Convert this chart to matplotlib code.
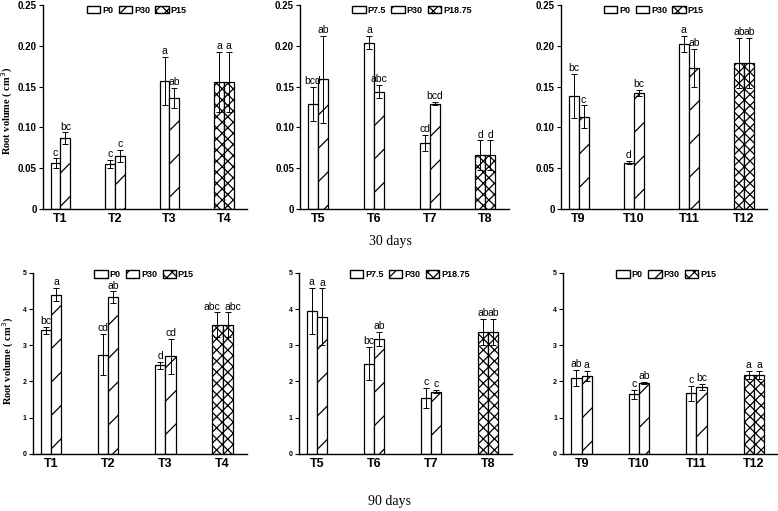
import numpy as np
import matplotlib
matplotlib.use("Agg")
import matplotlib.pyplot as plt
from matplotlib.patches import Patch

plt.rcParams['font.family'] = ['Liberation Sans', 'DejaVu Sans']
plt.rcParams['hatch.linewidth'] = 0.9

# ---- data (root volume, cm3) ----
grp_a = ['T1', 'T2', 'T3', 'T4']
grp_b = ['T5', 'T6', 'T7', 'T8']
grp_c = ['T9', 'T10', 'T11', 'T12']

low_30_a = [0.056, 0.055, 0.157, 0.156]
low_err_30_a = [0.006, 0.005, 0.029, 0.037]
p30_30_a = [0.087, 0.065, 0.136, 0.156]
p30_err_30_a = [0.007, 0.007, 0.012, 0.037]
low_let_30_a = ['c', 'c', 'a', 'a']
p30_let_30_a = ['bc', 'c', 'ab', 'a']

low_30_b = [0.129, 0.204, 0.081, 0.066]
low_err_30_b = [0.021, 0.008, 0.010, 0.018]
p30_30_b = [0.159, 0.144, 0.129, 0.066]
p30_err_30_b = [0.053, 0.008, 0.002, 0.018]
low_let_30_b = ['bcd', 'a', 'cd', 'd']
p30_let_30_b = ['ab', 'abc', 'bcd', 'd']

low_30_c = [0.139, 0.057, 0.202, 0.179]
low_err_30_c = [0.027, 0.002, 0.010, 0.031]
p30_30_c = [0.113, 0.142, 0.173, 0.179]
p30_err_30_c = [0.014, 0.004, 0.023, 0.031]
low_let_30_c = ['bc', 'd', 'a', 'ab']
p30_let_30_c = ['c', 'bc', 'ab', 'ab']

low_90_a = [3.41, 2.74, 2.44, 3.57]
low_err_90_a = [0.09, 0.57, 0.10, 0.34]
p30_90_a = [4.40, 4.33, 2.69, 3.57]
p30_err_90_a = [0.19, 0.16, 0.48, 0.34]
low_let_90_a = ['bc', 'cd', 'd', 'abc']
p30_let_90_a = ['a', 'ab', 'cd', 'abc']

low_90_b = [3.95, 2.49, 1.55, 3.37]
low_err_90_b = [0.64, 0.46, 0.28, 0.35]
p30_90_b = [3.79, 3.18, 1.72, 3.37]
p30_err_90_b = [0.78, 0.19, 0.05, 0.35]
low_let_90_b = ['a', 'bc', 'c', 'ab']
p30_let_90_b = ['a', 'ab', 'c', 'ab']

low_90_c = [2.10, 1.64, 1.67, 2.19]
low_err_90_c = [0.22, 0.13, 0.20, 0.11]
p30_90_c = [2.16, 1.96, 1.84, 2.19]
p30_err_90_c = [0.14, 0.03, 0.09, 0.11]
low_let_90_c = ['ab', 'c', 'c', 'a']
p30_let_90_c = ['a', 'ab', 'bc', 'a']

legend_ac = ['P0', 'P30', 'P15']
legend_b = ['P7.5', 'P30', 'P18.75']

fig = plt.figure(figsize=(7.78, 5.11), dpi=100)

W = 0.18


def panel(rect, groups, v1, e1, v2, e2, l1, l2, names, top_row, leg_x):
    ax = fig.add_axes(rect)
    x = np.arange(len(groups))
    hatch1 = ['', '', '', 'xxx']
    hatch2 = ['/', '/', '/', 'xxx']
    for i in range(len(groups)):
        ax.bar(x[i] - W / 2, v1[i], W, color='white', edgecolor='black',
               hatch=hatch1[i], linewidth=0.9, zorder=2)
        ax.bar(x[i] + W / 2, v2[i], W, color='white', edgecolor='black',
               hatch=hatch2[i], linewidth=0.9, zorder=2)
    ax.errorbar(x - W / 2, v1, yerr=e1, fmt='none', ecolor='black',
                elinewidth=0.7, capsize=2.2, capthick=0.7, zorder=3)
    ax.errorbar(x + W / 2, v2, yerr=e2, fmt='none', ecolor='black',
                elinewidth=0.7, capsize=2.2, capthick=0.7, zorder=3)
    ymax = 0.25 if top_row else 5
    pad = ymax * 0.004
    for i in range(len(groups)):
        y1 = v1[i] + e1[i] + pad
        y2 = v2[i] + e2[i] + pad
        # spread long twin labels that sit at the same height
        wide = abs(y1 - y2) < ymax * 0.03 and len(l1[i]) + len(l2[i]) > 4
        ax.text(x[i] - W / 2 + (0.05 if wide else 0), y1, l1[i],
                ha='right' if wide else 'center', va='bottom', fontsize=7.5)
        ax.text(x[i] + W / 2 - (0.05 if wide else 0), y2, l2[i],
                ha='left' if wide else 'center', va='bottom', fontsize=7.5)
    ax.set_xlim(-0.32, 3.42)
    ax.set_ylim(0, ymax)
    ax.set_xticks(x)
    ax.set_xticklabels(groups, fontsize=9, fontweight='bold')
    ax.tick_params(axis='x', length=0, pad=3)
    if top_row:
        ax.set_yticks([0, 0.05, 0.10, 0.15, 0.20, 0.25])
        ax.set_yticklabels(['0', '0.05', '0.10', '0.15', '0.20', '0.25'],
                           fontsize=7, fontweight='bold')
    else:
        ax.set_yticks([0, 1, 2, 3, 4, 5])
        ax.set_yticklabels(['0', '1', '2', '3', '4', '5'], fontsize=5,
                           fontweight='bold')
    ax.tick_params(axis='y', length=3, width=0.8, pad=1.5)
    for s in ['top', 'right']:
        ax.spines[s].set_visible(False)
    for s in ['left', 'bottom']:
        ax.spines[s].set_linewidth(1.0)
    handles = [Patch(facecolor='white', edgecolor='black', label=names[0]),
               Patch(facecolor='white', edgecolor='black', hatch='/', label=names[1]),
               Patch(facecolor='white', edgecolor='black', hatch='xxx', label=names[2])]
    leg = ax.legend(handles=handles, loc='upper center',
                    bbox_to_anchor=(leg_x, 1.01 if top_row else 1.03), ncol=3,
                    frameon=False, fontsize=6.5, handlelength=1.5, handleheight=0.9,
                    handletextpad=0.2, columnspacing=0.6, borderaxespad=0.1,
                    borderpad=0.2)
    for t in leg.get_texts():
        t.set_fontweight('bold')
    return ax


top_b, top_h = 0.591, 0.399
bot_b, bot_h = 0.112, 0.354

panel([0.0553, top_b, 0.262, top_h], grp_a, low_30_a, low_err_30_a,
      p30_30_a, p30_err_30_a, low_let_30_a, p30_let_30_a, legend_ac, True, 0.46)
panel([0.386, top_b, 0.268, top_h], grp_b, low_30_b, low_err_30_b,
      p30_30_b, p30_err_30_b, low_let_30_b, p30_let_30_b, legend_b, True, 0.535)
panel([0.721, top_b, 0.265, top_h], grp_c, low_30_c, low_err_30_c,
      p30_30_c, p30_err_30_c, low_let_30_c, p30_let_30_c, legend_ac, True, 0.45)

panel([0.042, bot_b, 0.275, bot_h], grp_a, low_90_a, low_err_90_a,
      p30_90_a, p30_err_90_a, low_let_90_a, p30_let_90_a, legend_ac, False, 0.52)
panel([0.384, bot_b, 0.274, bot_h], grp_b, low_90_b, low_err_90_b,
      p30_90_b, p30_err_90_b, low_let_90_b, p30_let_90_b, legend_b, False, 0.52)
panel([0.724, bot_b, 0.276, bot_h], grp_c, low_90_c, low_err_90_c,
      p30_90_c, p30_err_90_c, low_let_90_c, p30_let_90_c, legend_ac, False, 0.48)

serif = ['Liberation Serif', 'DejaVu Serif']
fig.text(7.5 / 778, 1 - 111 / 511, 'Root volume ( cm$^3$)', rotation=90,
         ha='center', va='center', fontsize=7.5, fontweight='bold', family=serif)
fig.text(8 / 778, 1 - 361 / 511, 'Root volume ( cm$^3$)', rotation=90,
         ha='center', va='center', fontsize=7.5, fontweight='bold', family=serif)
fig.text(390 / 778, 1 - 241 / 511, '30 days', ha='center', va='center',
         fontsize=10, family=serif)
fig.text(390 / 778, 1 - 502 / 511, '90 days', ha='center', va='center',
         fontsize=10, family=serif)

fig.savefig('out.png', dpi=100)
